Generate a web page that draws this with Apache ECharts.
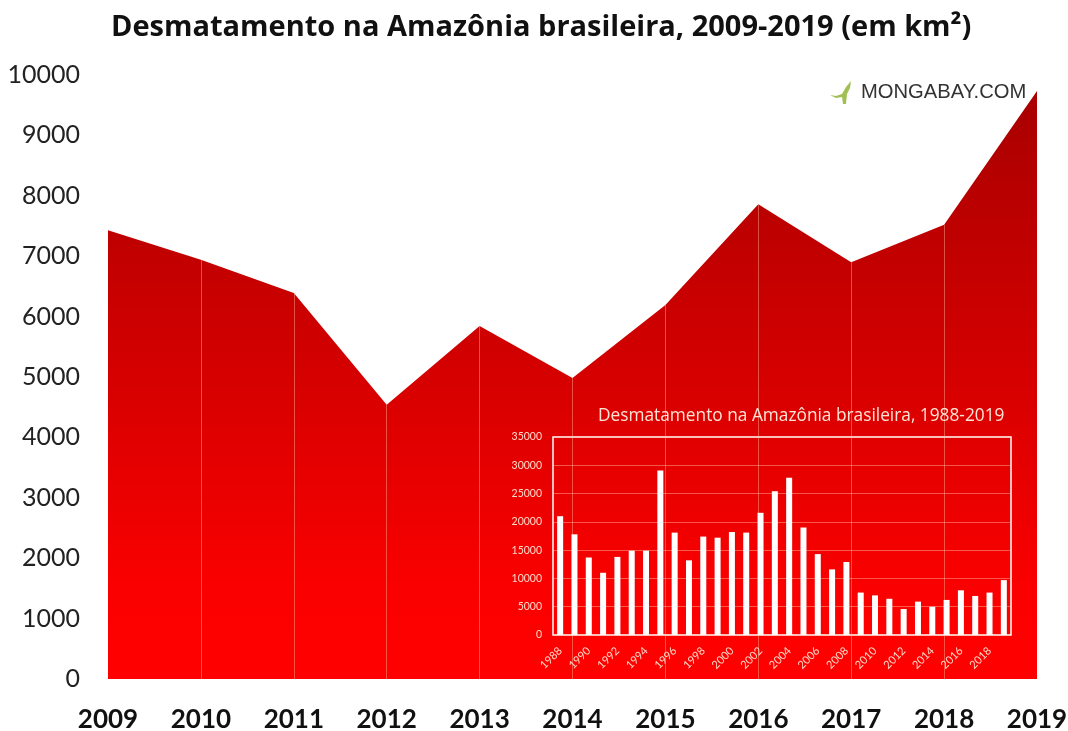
<!DOCTYPE html>
<html>
<head>
<meta charset="utf-8">
<title>Desmatamento na Amazônia brasileira</title>
<script src="https://cdn.jsdelivr.net/npm/echarts@6/dist/echarts.min.js"></script>
<style>
  html, body { margin: 0; padding: 0; background: #fff; }
  #main { width: 1068px; height: 731px; }
</style>
</head>
<body>
<div id="main"></div>
<script>
// 2009-2019, grafico principal
var years = ["2009", "2010", "2011", "2012", "2013", "2014", "2015", "2016", "2017", "2018", "2019"];
var areaValues = [7430, 6940, 6390, 4540, 5845, 4985, 6190, 7860, 6900, 7520, 9735];

// 1988-2019, grafico pequeno
var insetYears = ["1988", "1989", "1990", "1991", "1992", "1993", "1994", "1995", "1996", "1997", "1998",
  "1999", "2000", "2001", "2002", "2003", "2004", "2005", "2006", "2007", "2008", "2009", "2010",
  "2011", "2012", "2013", "2014", "2015", "2016", "2017", "2018", "2019"];
var insetValues = [21000, 17800, 13700, 11000, 13800, 14900, 14900, 29100, 18100, 13200, 17400,
  17200, 18200, 18100, 21600, 25400, 27800, 19000, 14300, 11600, 12900, 7500, 7000,
  6400, 4600, 5900, 5000, 6200, 7900, 6900, 7500, 9700];

var myChart = echarts.init(document.getElementById("main"));

// linhas verticais claras dentro da area
var yearLines = [];
for (var i = 1; i < years.length - 1; i++) {
  yearLines.push([
    { xAxis: years[i], yAxis: 0 },
    { xAxis: years[i], yAxis: areaValues[i] }
  ]);
}

// sem separador de milhar
function plainNumber(value) {
  return String(value);
}

var option = {
  animation: false,
  backgroundColor: "#fff",
  title: [
    {
      text: "Desmatamento na Amazônia brasileira, 2009-2019 (em km²)",
      left: 106,
      top: 8,
      textStyle: { fontFamily: "Open Sans", fontWeight: "bold", fontSize: 29, color: "#111" }
    },
    {
      text: "Desmatamento na Amazônia brasileira, 1988-2019",
      left: 593,
      top: 403,
      textStyle: { fontFamily: "Open Sans", fontWeight: "normal", fontSize: 17.3, color: "#ffe4d6" }
    },
    {
      text: "MONGABAY.COM",
      left: 856,
      top: 77,
      textStyle: { fontFamily: "Liberation Sans", fontWeight: "normal", fontSize: 20.2, color: "#333" }
    }
  ],
  graphic: [
    {
      // lagartixa do logo
      type: "polygon",
      shape: {
        points: [[851, 81], [850, 88], [847, 94], [846, 104], [843, 104], [842, 97], [836, 98], [830, 95], [836, 96], [842, 94], [846, 87]]
      },
      style: { fill: "#8fb536", opacity: 0.85 }
    }
  ],
  grid: [
    { left: 108, right: 31, top: 75, height: 604, outerBoundsMode: "none" },
    {
      left: 553, top: 437, width: 458, height: 198, outerBoundsMode: "none",
      show: true, borderColor: "#fff", borderWidth: 1.5, z: 5
    }
  ],
  xAxis: [
    {
      type: "category",
      gridIndex: 0,
      data: years,
      boundaryGap: false,
      axisLine: { show: false },
      axisTick: { show: false },
      axisLabel: {
        fontFamily: "Lato", fontWeight: "bold", fontSize: 26, color: "#111",
        margin: 28, interval: 0, showMinLabel: true, showMaxLabel: true
      }
    },
    {
      type: "category",
      gridIndex: 1,
      data: insetYears,
      axisLine: { show: false },
      axisTick: { show: false },
      z: 5,
      axisLabel: {
        fontFamily: "Lato", fontSize: 11, color: "#ffd8c8",
        rotate: 45, interval: 1, margin: 14
      }
    }
  ],
  yAxis: [
    {
      type: "value",
      gridIndex: 0,
      min: 0,
      max: 10000,
      interval: 1000,
      axisLine: { show: false },
      axisTick: { show: false },
      splitLine: { show: false },
      axisLabel: { fontFamily: "Lato", fontSize: 25, color: "#222", margin: 28, formatter: plainNumber }
    },
    {
      type: "value",
      gridIndex: 1,
      min: 0,
      max: 35000,
      interval: 5000,
      axisLine: { show: false },
      axisTick: { show: false },
      z: 5,
      splitLine: { lineStyle: { color: "rgba(255,190,170,0.45)", width: 1 } },
      axisLabel: { fontFamily: "Lato", fontSize: 10.5, color: "#ffd8c8", margin: 11, formatter: plainNumber }
    }
  ],
  series: [
    {
      type: "line",
      xAxisIndex: 0,
      yAxisIndex: 0,
      data: areaValues,
      symbol: "none",
      lineStyle: { width: 0 },
      areaStyle: {
        opacity: 1,
        color: new echarts.graphic.LinearGradient(0, 0, 0, 1, [
          { offset: 0, color: "#a80000" },
          { offset: 0.45, color: "#d20000" },
          { offset: 0.85, color: "#fb0000" },
          { offset: 1, color: "#ff0000" }
        ])
      },
      markLine: {
        silent: true,
        symbol: "none",
        label: { show: false },
        lineStyle: { color: "rgba(255,205,170,0.4)", width: 1, type: "solid" },
        data: yearLines
      }
    },
    {
      type: "bar",
      xAxisIndex: 1,
      yAxisIndex: 1,
      data: insetValues,
      barWidth: 6,
      z: 6,
      itemStyle: { color: "#fff" }
    }
  ]
};
myChart.setOption(option);
</script>
</body>
</html>
